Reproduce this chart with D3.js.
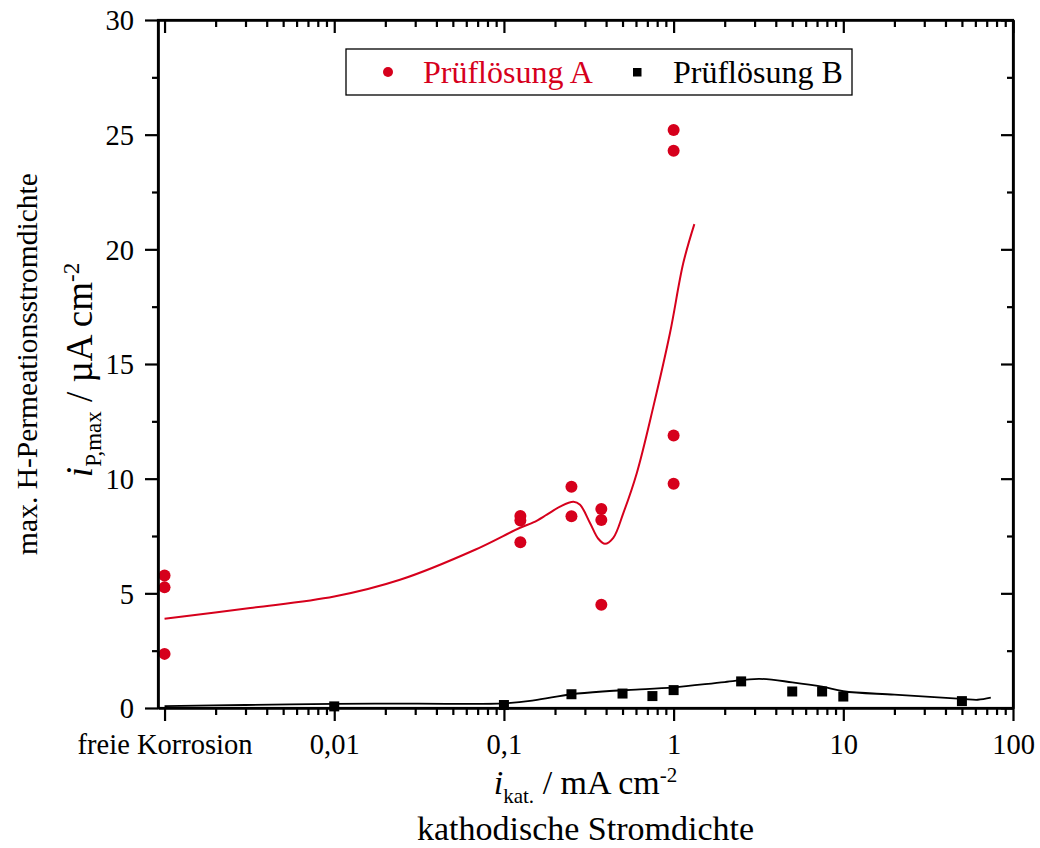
<!DOCTYPE html>
<html>
<head>
<meta charset="utf-8">
<script src="https://cdn.jsdelivr.net/npm/d3@7"></script>
<style>
  html, body { margin: 0; padding: 0; background: #fff; }
  svg { display: block; }
  svg text { font-family: "Liberation Serif", "Times New Roman", Times, serif; }
</style>
</head>
<body>
<svg id="chart" width="1040" height="848"></svg>
<script>
// ---- data ----
const xMajorTicks = [0.001, 0.01, 0.1, 1, 10, 100];
const xMajorLabels = ["freie Korrosion", "0,01", "0,1", "1", "10", "100"];
const yMajorTicks = [0, 5, 10, 15, 20, 25, 30];
const yMinorTicks = [2.5, 7.5, 12.5, 17.5, 22.5, 27.5];

const seriesNames = ["Prüflösung A", "Prüflösung B"];

// Prüflösung A (measured points)
const xA = [0.001, 0.001, 0.001, 0.125, 0.125, 0.125, 0.25, 0.25, 0.375, 0.375, 0.375, 1, 1, 1, 1];
const yA = [5.78, 5.26, 2.36, 8.37, 8.18, 7.23, 9.65, 8.36, 8.68, 8.2, 4.5, 25.2, 24.3, 11.88, 9.78];

// Prüflösung B (measured points)
const xB = [0.01, 0.1, 0.25, 0.5, 0.75, 1, 2.5, 5, 7.5, 10, 50];
const yB = [0.07, 0.13, 0.6, 0.63, 0.52, 0.78, 1.16, 0.72, 0.72, 0.5, 0.3];

// fitted trend curves
const fitAx = [0.001, 0.0032, 0.01, 0.0244, 0.0676, 0.1245, 0.149, 0.179, 0.214, 0.257, 0.281, 0.321, 0.36, 0.394, 0.441, 0.506, 0.607, 0.759, 0.952, 1.14, 1.325];
const fitAy = [3.89, 4.36, 4.86, 5.59, 6.9, 7.86, 8.09, 8.43, 8.78, 8.99, 8.86, 8.08, 7.38, 7.16, 7.42, 8.51, 10.25, 13.13, 16.35, 19.4, 21.1];
const fitBx = [0.001, 0.003, 0.01, 0.03, 0.1, 0.15, 0.25, 0.4, 0.6, 1, 2, 3.2, 5, 7.5, 10, 20, 50, 62, 74];
const fitBy = [0.08, 0.13, 0.18, 0.19, 0.2, 0.33, 0.6, 0.73, 0.8, 0.9, 1.13, 1.27, 1.12, 0.93, 0.73, 0.58, 0.4, 0.36, 0.45];

(function () {
const RED = "#d6001c";
const FONT = "Liberation Serif, Times New Roman, Times, serif";
const pL = 158, pR = 1013, pT = 20, pB = 708;
const fontTick = 28.5;

const svg = d3.select("#chart");

const x = d3.scaleLog().domain([0.000915, 100]).range([pL, pR]);
const y = d3.scaleLinear().domain([0, 30]).range([pB, pT]);

const xMinorTicks = [];
[-3, -2, -1, 0, 1].forEach(e => {
  for (let k = 2; k <= 9; k++) xMinorTicks.push(+(k * Math.pow(10, e)).toPrecision(3));
});

// ---- curves ----
const line = d3.line().x(d => x(d[0])).y(d => y(d[1])).curve(d3.curveCatmullRom.alpha(0.5));
svg.append("path")
  .datum(fitAx.map((v, i) => [v, fitAy[i]]))
  .attr("d", line).attr("fill", "none").attr("stroke", RED).attr("stroke-width", 2);
svg.append("path")
  .datum(fitBx.map((v, i) => [v, fitBy[i]]))
  .attr("d", line).attr("fill", "none").attr("stroke", "#000").attr("stroke-width", 1.8);

// ---- points ----
svg.append("g").selectAll("circle")
  .data(xA.map((v, i) => [v, yA[i]]))
  .join("circle")
  .attr("cx", d => x(d[0])).attr("cy", d => y(d[1])).attr("r", 6).attr("fill", RED);

const sq = 10;
svg.append("g").selectAll("rect")
  .data(xB.map((v, i) => [v, yB[i]]))
  .join("rect")
  .attr("x", d => x(d[0]) - sq / 2).attr("y", d => y(d[1]) - sq / 2)
  .attr("width", sq).attr("height", sq).attr("fill", "#000");

// ---- axes ----
function styleAxis(g) {
  g.selectAll("path.domain").attr("stroke", "#000").attr("stroke-width", 2.2);
  g.selectAll(".tick line").attr("stroke", "#000").attr("stroke-width", 2.2);
  g.attr("font-family", FONT).attr("font-size", null);
}

// bottom
const gB = svg.append("g").attr("transform", `translate(0,${pB})`)
  .call(d3.axisBottom(x).tickValues(xMajorTicks).tickFormat((d, i) => xMajorLabels[i]).tickSize(13).tickSizeOuter(0))
  .call(styleAxis);
gB.selectAll(".tick text").attr("font-size", fontTick).attr("font-family", FONT).attr("fill", "#000").attr("y", 46).attr("dy", null);
svg.append("g").attr("transform", `translate(0,${pB})`)
  .call(d3.axisBottom(x).tickValues(xMinorTicks).tickFormat("").tickSize(7).tickSizeOuter(0))
  .call(styleAxis);

// top
svg.append("g").attr("transform", `translate(0,${pT})`)
  .call(d3.axisBottom(x).tickValues(xMajorTicks).tickFormat("").tickSize(13).tickSizeOuter(0))
  .call(styleAxis);
svg.append("g").attr("transform", `translate(0,${pT})`)
  .call(d3.axisBottom(x).tickValues(xMinorTicks).tickFormat("").tickSize(7).tickSizeOuter(0))
  .call(styleAxis);

// left
const gL = svg.append("g").attr("transform", `translate(${pL},0)`)
  .call(d3.axisLeft(y).tickValues(yMajorTicks).tickFormat(d3.format("d")).tickSize(13).tickSizeOuter(0).tickPadding(11))
  .call(styleAxis);
gL.selectAll(".tick text").attr("font-size", fontTick).attr("font-family", FONT).attr("fill", "#000").attr("dy", "0.34em");
svg.append("g").attr("transform", `translate(${pL},0)`)
  .call(d3.axisLeft(y).tickValues(yMinorTicks).tickFormat("").tickSize(6).tickSizeOuter(0))
  .call(styleAxis);

// right
svg.append("g").attr("transform", `translate(${pR},0)`)
  .call(d3.axisLeft(y).tickValues(yMajorTicks).tickFormat("").tickSize(12).tickSizeOuter(0))
  .call(styleAxis);
svg.append("g").attr("transform", `translate(${pR},0)`)
  .call(d3.axisLeft(y).tickValues(yMinorTicks).tickFormat("").tickSize(6).tickSizeOuter(0))
  .call(styleAxis);

// frame
svg.append("rect").attr("x", pL).attr("y", pT).attr("width", pR - pL).attr("height", pB - pT)
  .attr("fill", "none").attr("stroke", "#000").attr("stroke-width", 2.2);

// ---- axis titles ----
const cx = (pL + pR) / 2;
const xt = svg.append("text").attr("x", cx).attr("y", 794).attr("text-anchor", "middle")
  .attr("font-family", FONT).attr("font-size", 34);
xt.append("tspan").attr("font-style", "italic").text("i");
xt.append("tspan").attr("font-size", 21).attr("dy", 9).text("kat.");
xt.append("tspan").attr("dy", -9).text(" / mA cm");
xt.append("tspan").attr("font-size", 21).attr("dy", -12).text("-2");

svg.append("text").attr("x", cx).attr("y", 840).attr("text-anchor", "middle")
  .attr("font-family", FONT).attr("font-size", 34)
  .text("kathodische Stromdichte");

const cy = (pT + pB) / 2;
svg.append("text").attr("transform", `translate(37,${cy}) rotate(-90)`).attr("text-anchor", "middle")
  .attr("font-family", FONT).attr("font-size", 29.5).text("max. H-Permeationsstromdichte");

const yt = svg.append("text").attr("transform", `translate(92,${cy + 6}) rotate(-90)`).attr("text-anchor", "middle")
  .attr("font-family", FONT).attr("font-size", 37);
yt.append("tspan").attr("font-style", "italic").text("i");
yt.append("tspan").attr("font-size", 23).attr("dy", 9).text("P,max");
yt.append("tspan").attr("dy", -9).text(" / \u00B5A cm");
yt.append("tspan").attr("font-size", 23).attr("dy", -13).text("-2");

// ---- legend ----
const lg = svg.append("g");
lg.append("rect").attr("x", 346).attr("y", 49).attr("width", 506).attr("height", 46)
  .attr("fill", "#fff").attr("stroke", "#000").attr("stroke-width", 1.3);
lg.append("circle").attr("cx", 388).attr("cy", 72).attr("r", 5).attr("fill", RED);
lg.append("text").attr("x", 423).attr("y", 83).attr("font-family", FONT).attr("font-size", 32).attr("fill", RED).text(seriesNames[0]);
lg.append("rect").attr("x", 633).attr("y", 68).attr("width", 8.5).attr("height", 8.5).attr("fill", "#000");
lg.append("text").attr("x", 673).attr("y", 83).attr("font-family", FONT).attr("font-size", 32).attr("fill", "#000").text(seriesNames[1]);
})();
</script>
</body>
</html>
